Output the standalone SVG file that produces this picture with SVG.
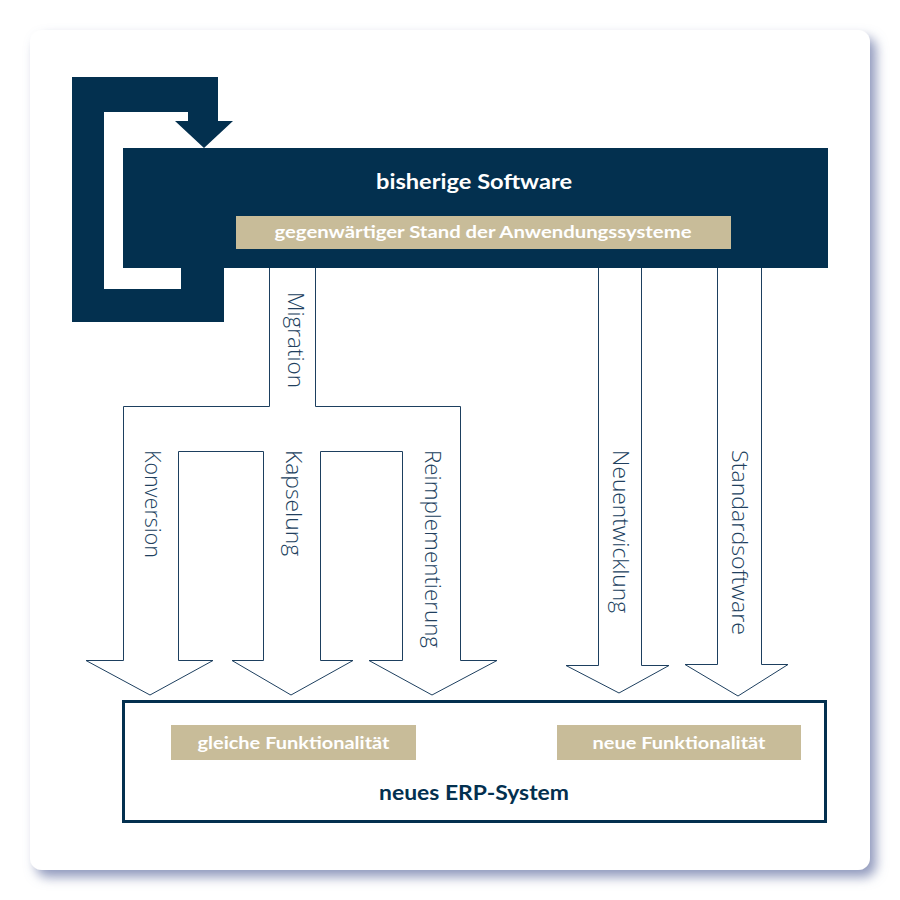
<svg xmlns="http://www.w3.org/2000/svg" width="900" height="900" viewBox="0 0 900 900">
  <defs>
    <filter id="shadow" x="-10%" y="-10%" width="125%" height="125%">
      <feDropShadow dx="6" dy="7" stdDeviation="6" flood-color="#6c77a6" flood-opacity="0.75"/>
    </filter>
    <style>
      .navy { fill: #03304f; }
      .tan { fill: #c8bc99; }
      .outline { fill: #ffffff; stroke: #1d3f5f; stroke-width: 1; stroke-linejoin: miter; }
      .bold { font-family: Lato, "Open Sans", "Liberation Sans", sans-serif; font-weight: 700; }
      .white { fill: #ffffff; }
      .dark { fill: #03304f; }
      .lbl { font-family: "Open Sans", Lato, "Liberation Sans", sans-serif; font-weight: 300; font-size: 22px; fill: #213f5e; }
    </style>
  </defs>

  <rect x="0" y="0" width="900" height="900" fill="#ffffff"/>
  <rect x="30" y="30" width="840" height="840" rx="12" ry="12" fill="#ffffff" filter="url(#shadow)"/>

  <g id="loop">
    <polygon class="navy" points="72,77 218,77 218,121 233,121 204,148 175,121 188,121 188,112 104,112 104,289 181,289 181,268 224,268 224,322 72,322"/>
  </g>

  <g id="bisherige-software">
    <rect class="navy" x="123" y="148" width="705" height="120"/>
    <text class="bold white" x="474" y="189" font-size="20" text-anchor="middle" textLength="196" lengthAdjust="spacingAndGlyphs">bisherige Software</text>
    <rect class="tan" x="236" y="216" width="495" height="33"/>
    <text class="bold white" x="483" y="238" font-size="17" text-anchor="middle" textLength="417" lengthAdjust="spacingAndGlyphs">gegenwärtiger Stand der Anwendungssysteme</text>
  </g>

  <g id="connectors">
    <path class="outline" d="M269.5,268 L269.5,406.5 L123.5,406.5 L123.5,660.5 L86,660.5 L150,695 L213,660.5 L178.5,660.5 L178.5,451.5 L263.5,451.5 L263.5,660.5 L232,660.5 L291,695 L353,660.5 L320.5,660.5 L320.5,451.5 L402.5,451.5 L402.5,660.5 L369,660.5 L432,695 L497,660.5 L460.5,660.5 L460.5,406.5 L315.5,406.5 L315.5,268"/>
    <path class="outline" d="M598.5,268 L598.5,665.5 L566,665.5 L619,693 L669,665.5 L641.5,665.5 L641.5,268"/>
    <path class="outline" d="M717.5,268 L717.5,664.5 L685,664.5 L738,696 L788,664.5 L761.5,664.5 L761.5,268"/>
    <text class="lbl" transform="translate(288,292) rotate(90)" textLength="96" lengthAdjust="spacingAndGlyphs">Migration</text>
    <text class="lbl" transform="translate(145,450) rotate(90)" textLength="108" lengthAdjust="spacingAndGlyphs">Konversion</text>
    <text class="lbl" transform="translate(286,450) rotate(90)" textLength="106" lengthAdjust="spacingAndGlyphs">Kapselung</text>
    <text class="lbl" transform="translate(425,450) rotate(90)" textLength="198" lengthAdjust="spacingAndGlyphs">Reimplementierung</text>
    <text class="lbl" transform="translate(613,450) rotate(90)" textLength="163" lengthAdjust="spacingAndGlyphs">Neuentwicklung</text>
    <text class="lbl" transform="translate(732,450) rotate(90)" textLength="185" lengthAdjust="spacingAndGlyphs">Standardsoftware</text>
  </g>

  <g id="neues-erp-system">
    <rect x="123.5" y="701.5" width="702" height="120" fill="#ffffff" stroke="#03304f" stroke-width="3"/>
    <rect class="tan" x="171" y="725" width="245" height="35"/>
    <text class="bold white" x="293.5" y="749" font-size="17" text-anchor="middle" textLength="192" lengthAdjust="spacingAndGlyphs">gleiche Funktionalität</text>
    <rect class="tan" x="557" y="725" width="244" height="35"/>
    <text class="bold white" x="679" y="749" font-size="17" text-anchor="middle" textLength="173" lengthAdjust="spacingAndGlyphs">neue Funktionalität</text>
    <text class="bold dark" x="474" y="800" font-size="20" text-anchor="middle" textLength="190" lengthAdjust="spacingAndGlyphs">neues ERP-System</text>
  </g>
</svg>
